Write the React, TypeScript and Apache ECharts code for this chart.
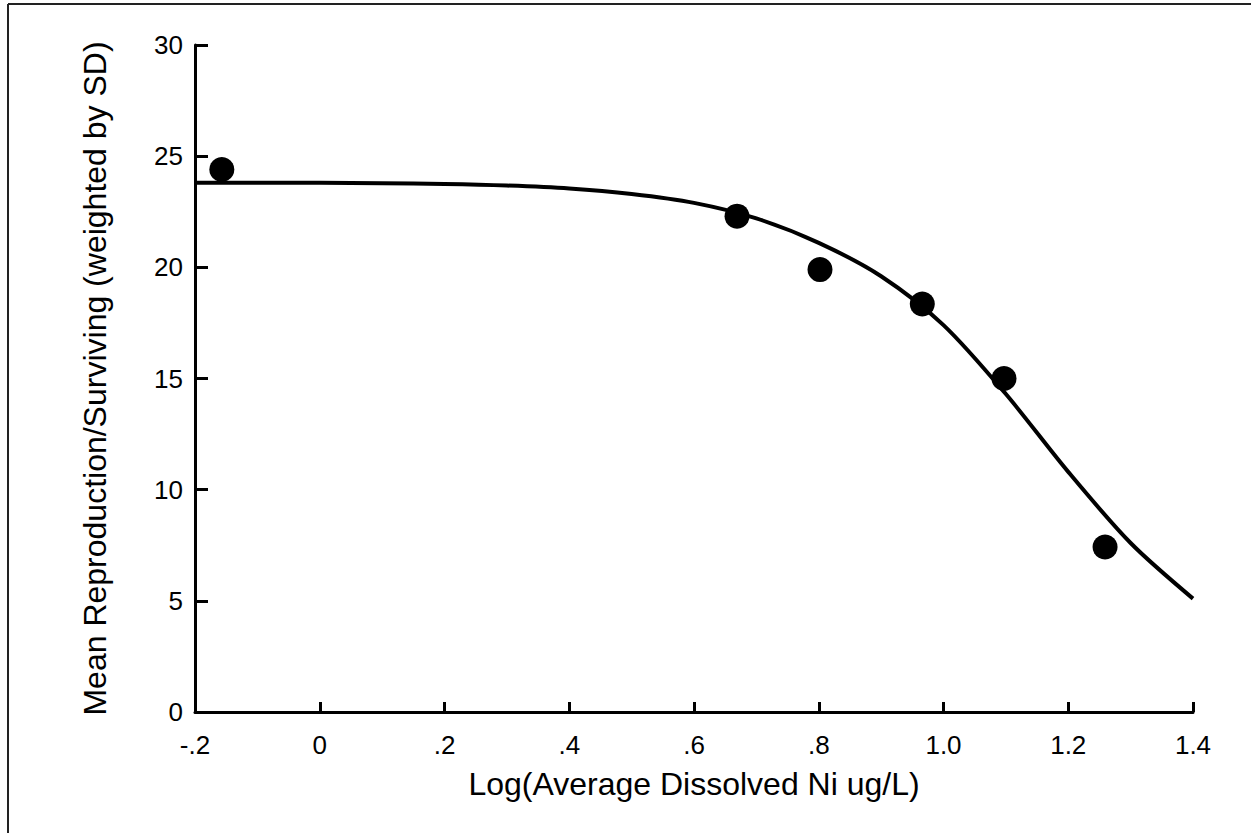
import React, { useEffect, useRef } from "react";
import * as echarts from "echarts";

const xTickLabels: Record<string, string> = {
  "-0.2": "-.2",
  "0": "0",
  "0.2": ".2",
  "0.4": ".4",
  "0.6": ".6",
  "0.8": ".8",
  "1": "1.0",
  "1.2": "1.2",
  "1.4": "1.4",
};

const pointX = [-0.157, 0.669, 0.802, 0.966, 1.097, 1.259];
const pointY = [24.4, 22.3, 19.9, 18.35, 15.0, 7.42];

const curveX = [-0.2, -0.1, 0, 0.1, 0.2, 0.3, 0.4, 0.5, 0.6, 0.7, 0.8, 0.9, 1.0, 1.1, 1.2, 1.3, 1.4];
const curveY = [23.8, 23.8, 23.8, 23.78, 23.75, 23.68, 23.55, 23.3, 22.9, 22.2, 21.1, 19.6, 17.4, 14.3, 10.8, 7.6, 5.1];

const xTitle = "Log(Average Dissolved Ni ug/L)";
const yTitle = "Mean Reproduction/Surviving (weighted by SD)";

const narrow = "'Liberation Sans Narrow', 'Arial Narrow', 'Liberation Sans', Arial, sans-serif";
const regular = "'Liberation Sans', Arial, sans-serif";

export default function App() {
  const ref = useRef<HTMLDivElement>(null);
  useEffect(() => {
    document.body.style.margin = "0";
    const chart = echarts.init(ref.current!, undefined, { renderer: "svg" });
    chart.setOption({
      animation: false,
      backgroundColor: "#ffffff",
      grid: { left: 195, right: 58, top: 45, bottom: 121, containLabel: false },
      xAxis: {
        type: "value",
        min: -0.2,
        max: 1.4,
        interval: 0.2,
        splitLine: { show: false },
        axisLine: { show: true, onZero: false, lineStyle: { color: "#000", width: 3 } },
        axisTick: { show: true, inside: true, length: 10, lineStyle: { color: "#000", width: 3 } },
        axisLabel: {
          color: "#000",
          fontFamily: narrow,
          fontSize: 26,
          margin: 20,
          formatter: (v: number) => xTickLabels[String(Math.round(v * 10) / 10)] ?? String(v),
        },
        name: xTitle,
        nameLocation: "middle",
        nameGap: 56,
        nameTextStyle: { color: "#000", fontFamily: narrow, fontSize: 32 },
      },
      yAxis: {
        type: "value",
        min: 0,
        max: 30,
        interval: 5,
        splitLine: { show: false },
        axisLine: { show: true, onZero: false, lineStyle: { color: "#000", width: 3 } },
        axisTick: { show: true, inside: true, length: 13, lineStyle: { color: "#000", width: 3 } },
        axisLabel: { color: "#000", fontFamily: narrow, fontSize: 26, margin: 12 },
        name: yTitle,
        nameLocation: "middle",
        nameGap: 84,
        nameTextStyle: { color: "#000", fontFamily: regular, fontSize: 32 },
      },
      graphic: [
        { type: "line", shape: { x1: 8, y1: 4, x2: 1251, y2: 4 }, style: { stroke: "#222", lineWidth: 2 } },
        { type: "line", shape: { x1: 8, y1: 4, x2: 8, y2: 833 }, style: { stroke: "#222", lineWidth: 2 } },
      ],
      series: [
        {
          type: "line",
          data: curveX.map((x, i) => [x, curveY[i]]),
          smooth: 0.3,
          showSymbol: false,
          lineStyle: { color: "#000", width: 4 },
          z: 2,
        },
        {
          type: "scatter",
          data: pointX.map((x, i) => [x, pointY[i]]),
          symbol: "circle",
          symbolSize: 25,
          itemStyle: { color: "#000", opacity: 1 },
          z: 3,
        },
      ],
    });
    return () => chart.dispose();
  }, []);
  return <div ref={ref} style={{ width: 1251, height: 833 }} />;
}
